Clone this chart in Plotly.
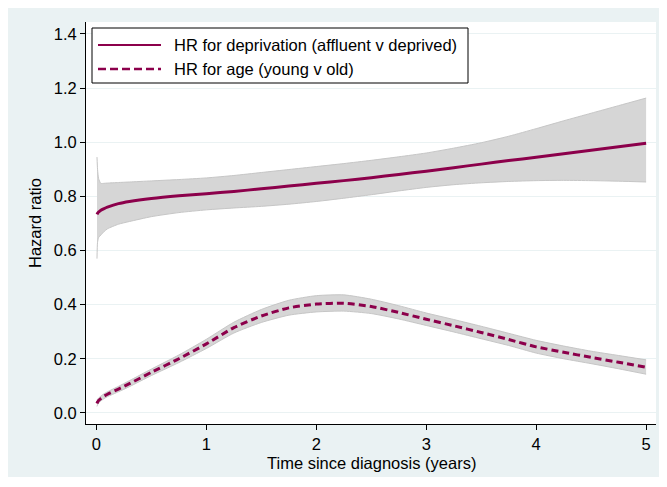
import plotly.graph_objects as go

# ---------------- data ----------------
t = [0.005, 0.01, 0.02, 0.04, 0.07, 0.1, 0.2, 0.3, 0.5, 0.75, 1.0, 1.25, 1.5,
     1.75, 2.0, 2.25, 2.5, 2.75, 3.0, 3.25, 3.5, 3.75, 4.0, 4.25, 4.5, 4.75, 5.0]

hr_dep = [0.733, 0.737, 0.742, 0.749, 0.755, 0.760, 0.773, 0.781, 0.792, 0.802,
          0.810, 0.818, 0.828, 0.838, 0.848, 0.858, 0.869, 0.881, 0.893, 0.906,
          0.919, 0.932, 0.944, 0.957, 0.970, 0.983, 0.996]
hr_dep_hi = [0.945, 0.900, 0.865, 0.848, 0.848, 0.849, 0.851, 0.853, 0.857, 0.862,
             0.868, 0.877, 0.888, 0.899, 0.910, 0.921, 0.933, 0.946, 0.960, 0.978,
             0.998, 1.022, 1.050, 1.079, 1.107, 1.135, 1.163]
hr_dep_lo = [0.570, 0.630, 0.648, 0.657, 0.670, 0.680, 0.697, 0.707, 0.725, 0.740,
             0.750, 0.757, 0.763, 0.771, 0.781, 0.793, 0.806, 0.820, 0.833, 0.843,
             0.850, 0.855, 0.858, 0.859, 0.858, 0.856, 0.853]

hr_age = [0.035, 0.040, 0.046, 0.053, 0.062, 0.069, 0.088, 0.108, 0.150, 0.200,
          0.255, 0.315, 0.358, 0.388, 0.402, 0.405, 0.393, 0.371, 0.346, 0.322,
          0.297, 0.271, 0.244, 0.224, 0.205, 0.187, 0.169]
hr_age_hi = [0.048, 0.050, 0.055, 0.062, 0.071, 0.078, 0.098, 0.119, 0.162, 0.214,
             0.272, 0.335, 0.382, 0.416, 0.433, 0.436, 0.420, 0.396, 0.369, 0.345,
             0.320, 0.294, 0.268, 0.247, 0.228, 0.212, 0.196]
hr_age_lo = [0.024, 0.030, 0.037, 0.044, 0.053, 0.060, 0.078, 0.097, 0.138, 0.186,
             0.238, 0.295, 0.334, 0.361, 0.373, 0.376, 0.367, 0.347, 0.323, 0.299,
             0.274, 0.249, 0.221, 0.200, 0.182, 0.163, 0.143]

x_ticks = [0, 1, 2, 3, 4, 5]
y_ticks = [0.0, 0.2, 0.4, 0.6, 0.8, 1.0, 1.2, 1.4]
legend_labels = ["HR for deprivation (affluent v deprived)", "HR for age (young v old)"]
x_title = "Time since diagnosis (years)"
y_title = "Hazard ratio"

# ---------------- styling ----------------
OFF = 8                                  # page body margin
W, H = 659, 469                          # figure size
L, R, T, B = 78, 648, 14, 416            # plot area in figure pixels
LINE = "rgb(140,0,75)"
BAND = "#D6D6D6"
BAND_EDGE = "#C6C6C6"
BG = "#EAF2F3"
FONT = "Liberation Sans, Arial, sans-serif"
FS = 16.5
SM = 0.6


def px(xp):   # page pixel -> paper x
    return (xp - OFF - L) / (R - L)


def py(yp):   # page pixel -> paper y
    return (B - (yp - OFF)) / (B - T)


fig = go.Figure()

for lo, hi in [(hr_dep_lo, hr_dep_hi), (hr_age_lo, hr_age_hi)]:
    fig.add_trace(go.Scatter(
        x=t, y=lo, mode="lines",
        line=dict(color=BAND_EDGE, width=1, shape="spline", smoothing=SM),
        hoverinfo="skip", showlegend=False))
    fig.add_trace(go.Scatter(
        x=t, y=hi, mode="lines", fill="tonexty", fillcolor=BAND,
        line=dict(color=BAND_EDGE, width=1, shape="spline", smoothing=SM),
        hoverinfo="skip", showlegend=False))

fig.add_trace(go.Scatter(x=t, y=hr_dep, mode="lines", name=legend_labels[0],
                         line=dict(color=LINE, width=3, shape="spline", smoothing=SM),
                         showlegend=False))
fig.add_trace(go.Scatter(x=t, y=hr_age, mode="lines", name=legend_labels[1],
                         line=dict(color=LINE, width=3, dash="7px,4px",
                                   shape="spline", smoothing=SM),
                         showlegend=False))

shapes = [
    # legend box
    dict(type="rect", xref="paper", yref="paper", x0=px(92), x1=px(468), y0=py(83), y1=py(28),
         fillcolor="white", line=dict(color="black", width=1)),
    dict(type="line", xref="paper", yref="paper", x0=px(98), x1=px(161), y0=py(45), y1=py(45),
         line=dict(color=LINE, width=2)),
    dict(type="line", xref="paper", yref="paper", x0=px(98), x1=px(161), y0=py(69), y1=py(69),
         line=dict(color=LINE, width=2.5, dash="8px,4px")),
]

annotations = [
    dict(xref="paper", yref="paper", x=px(172), y=py(45), text=legend_labels[0],
         showarrow=False, xanchor="left", yanchor="middle",
         font=dict(family=FONT, size=FS, color="black")),
    dict(xref="paper", yref="paper", x=px(172), y=py(69), text=legend_labels[1],
         showarrow=False, xanchor="left", yanchor="middle",
         font=dict(family=FONT, size=FS, color="black")),
    dict(xref="paper", yref="paper", x=px(371), y=py(463), text=x_title,
         showarrow=False, xanchor="center", yanchor="middle",
         font=dict(family=FONT, size=FS, color="black")),
    dict(xref="paper", yref="paper", x=px(35), y=py(223), text=y_title, textangle=-90,
         showarrow=False, xanchor="center", yanchor="middle",
         font=dict(family=FONT, size=FS, color="black")),
]

fig.update_layout(
    width=W, height=H,
    margin=dict(l=L, r=W - R, t=T, b=H - B, pad=0),
    paper_bgcolor=BG, plot_bgcolor="white",
    font=dict(family=FONT, size=FS, color="black"),
    showlegend=False,
    shapes=shapes, annotations=annotations,
    xaxis=dict(range=[-0.095, 5.09], tickvals=x_ticks, ticks="outside", ticklen=5,
               tickcolor="black", showline=True, linecolor="black", linewidth=1,
               showgrid=False, zeroline=False, mirror=False,
               tickfont=dict(family=FONT, size=FS, color="black")),
    yaxis=dict(range=[-0.041, 1.444], tickvals=y_ticks, tickformat=".1f",
               ticks="outside", ticklen=5, tickcolor="black", showline=True,
               linecolor="black", linewidth=1, showgrid=True, gridcolor=BG,
               gridwidth=1, zeroline=False, mirror=False,
               tickfont=dict(family=FONT, size=FS, color="black")),
)

fig.write_html("out.html")
